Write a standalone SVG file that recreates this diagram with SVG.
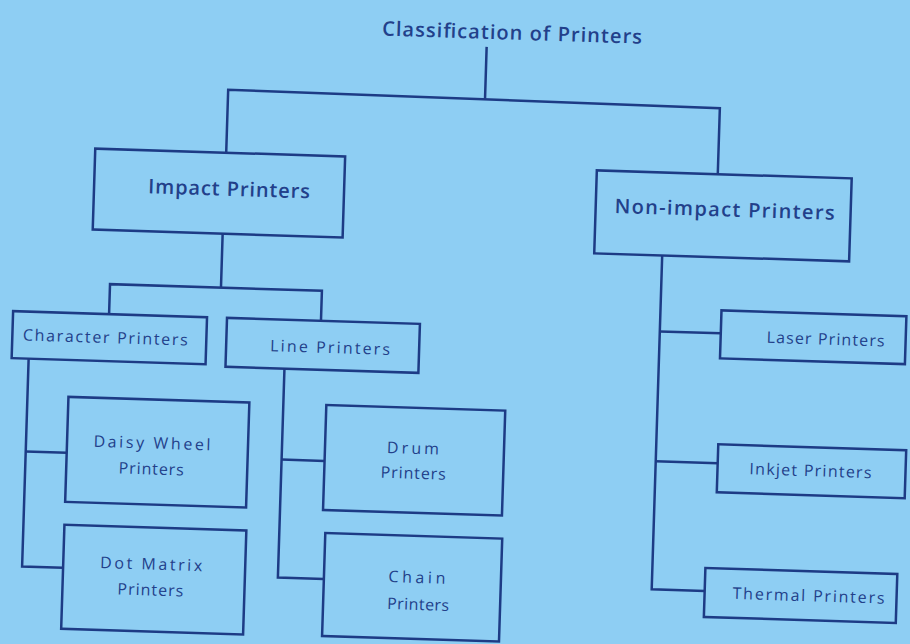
<svg xmlns="http://www.w3.org/2000/svg" width="910" height="644" viewBox="0 0 910 644">
<style>
.box{fill:none;stroke:#1d3b85;stroke-width:2.5}
.conn{fill:none;stroke:#1d3b85;stroke-width:2.5;stroke-linejoin:miter}
text{font-family:"Open Sans","DejaVu Sans",sans-serif;fill:#22408a;text-anchor:middle}
.big{font-size:20px;font-weight:600}
.title{font-size:20px;font-weight:600}
.small{font-size:16px}
</style>
<rect width="910" height="644" fill="#8ecef3"/>
<g transform="rotate(1.8 455 322)">
  <g id="connectors">
    <path class="conn" d="M478,46 V98"/>
    <path class="conn" d="M221,160 V97 L713,100 V166"/>
    <path class="conn" d="M220,241 V295"/>
    <path class="conn" d="M109,325 V295 H321 V325"/>
    <path class="conn" d="M30,372 V580 H71"/>
    <path class="conn" d="M30,465 H71"/>
    <path class="conn" d="M286,374 V583 H332"/>
    <path class="conn" d="M286,465 H329"/>
    <path class="conn" d="M660,249 V583 H713"/>
    <path class="conn" d="M660,325 H721"/>
    <path class="conn" d="M660,455 H722"/>
  </g>
  <g id="root">
    <text class="title" x="503" y="38" textLength="260">Classification of Printers</text>
  </g>
  <g id="impact">
    <rect class="box" x="90" y="160" width="250" height="81"/>
    <text class="big" x="225" y="203" textLength="162">Impact Printers</text>
  </g>
  <g id="nonimpact">
    <rect class="box" x="592" y="166" width="255" height="83"/>
    <text class="big" x="721" y="208" textLength="220">Non-impact Printers</text>
  </g>
  <g id="character">
    <rect class="box" x="13" y="325" width="194" height="47"/>
    <text class="small" x="106" y="354" textLength="165">Character Printers</text>
  </g>
  <g id="line">
    <rect class="box" x="227" y="325" width="193" height="49"/>
    <text class="small" x="331" y="357" textLength="120">Line Printers</text>
  </g>
  <g id="daisy">
    <rect class="box" x="71" y="409" width="181" height="105"/>
    <text class="small" x="156" y="458" textLength="117">Daisy Wheel</text>
    <text class="small" x="156" y="484" textLength="65">Printers</text>
  </g>
  <g id="dotmatrix">
    <rect class="box" x="71" y="537" width="182" height="104"/>
    <text class="small" x="159" y="579" textLength="102">Dot Matrix</text>
    <text class="small" x="159" y="605" textLength="66">Printers</text>
  </g>
  <g id="drum">
    <rect class="box" x="329" y="409" width="179" height="105"/>
    <text class="small" x="417" y="455" textLength="52">Drum</text>
    <text class="small" x="418" y="480" textLength="65">Printers</text>
  </g>
  <g id="chain">
    <rect class="box" x="332" y="537" width="177" height="103"/>
    <text class="small" x="425" y="584" textLength="57">Chain</text>
    <text class="small" x="427" y="611" textLength="62">Printers</text>
  </g>
  <g id="laser">
    <rect class="box" x="721" y="302" width="185" height="48"/>
    <text class="small" x="826" y="333" textLength="118">Laser Printers</text>
  </g>
  <g id="inkjet">
    <rect class="box" x="722" y="436" width="188" height="48"/>
    <text class="small" x="815" y="465" textLength="122">Inkjet Printers</text>
  </g>
  <g id="thermal">
    <rect class="box" x="713" y="560" width="192" height="49"/>
    <text class="small" x="817" y="590" textLength="152">Thermal Printers</text>
  </g>
</g>
</svg>
